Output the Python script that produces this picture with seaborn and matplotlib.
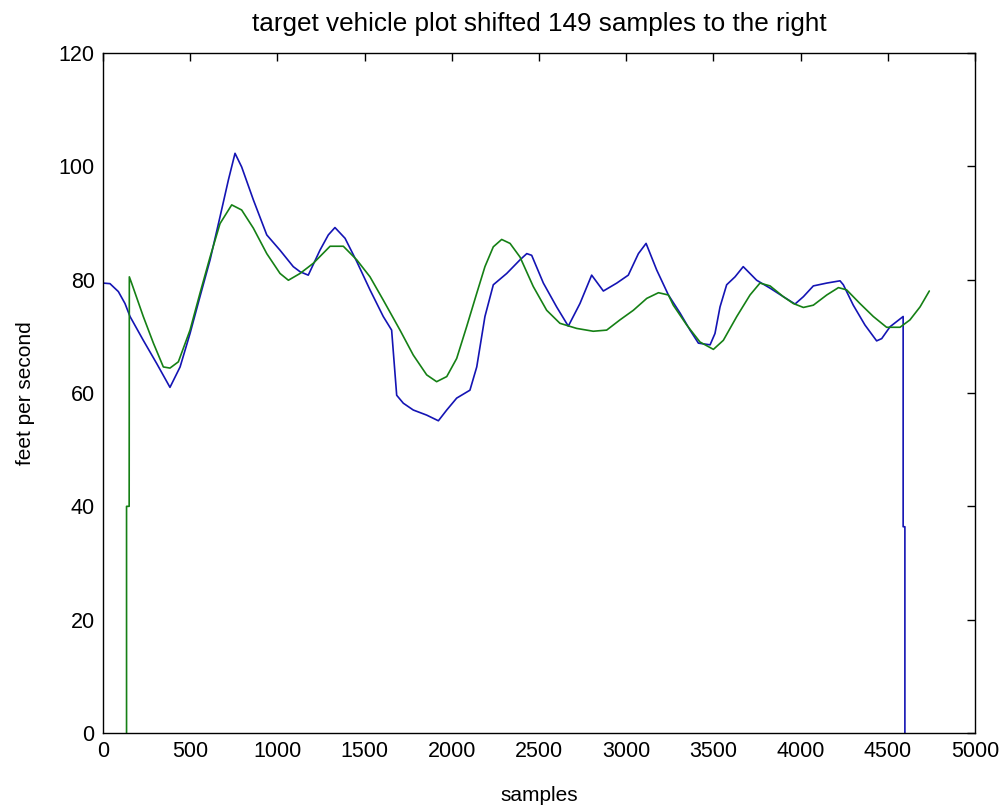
"""
Speed trace of the target vehicle against the lead vehicle, shifted 149 samples
"""

import matplotlib
matplotlib.use('Agg')
import matplotlib.pyplot as plt
from matplotlib import font_manager
import seaborn as sns
import pandas as pd

# blue trace (original)
blue_x = [0, 40, 88, 126, 155, 231, 308, 384, 442, 499, 556, 614, 671, 719, 757,
          795, 862, 939, 1015, 1091, 1130, 1177, 1244, 1292, 1330, 1388, 1455,
          1531, 1607, 1655, 1684, 1722, 1779, 1856, 1923, 1971, 2028, 2104, 2143,
          2190, 2238, 2315, 2391, 2430, 2458, 2525, 2601, 2668, 2735, 2802, 2869,
          2946, 3012, 3070, 3114, 3175, 3242, 3309, 3366, 3414, 3481, 3509, 3538,
          3576, 3624, 3671, 3748, 3825, 3901, 3968, 4016, 4073, 4150, 4226, 4245,
          4302, 4369, 4436, 4465, 4513, 4588, 4588, 4598, 4598]
blue_y = [79.4, 79.3, 77.9, 75.8, 73.5, 69.3, 65.2, 61.0, 64.6, 70.5, 77.0, 83.5,
          91.1, 97.6, 102.3, 99.9, 94.1, 87.9, 85.2, 82.3, 81.4, 80.8, 85.2, 87.9,
          89.2, 87.3, 83.2, 78.2, 73.5, 71.1, 59.6, 58.2, 57.0, 56.1, 55.1, 57.0,
          59.1, 60.5, 64.6, 73.5, 79.1, 81.1, 83.5, 84.6, 84.3, 79.4, 75.2, 71.8,
          75.8, 80.8, 78.0, 79.4, 80.8, 84.6, 86.4, 81.7, 77.3, 74.1, 71.1, 68.8,
          68.5, 70.5, 75.2, 79.1, 80.5, 82.3, 79.9, 78.5, 77.0, 75.7, 77.0, 78.9,
          79.4, 79.8, 79.1, 75.5, 72.0, 69.2, 69.6, 71.7, 73.5, 36.4, 36.4, 0]

# green trace (shifted)
green_x = [135, 135, 150, 151, 164, 231, 289, 346, 384, 432, 499, 556, 614, 671,
           738, 795, 862, 939, 1015, 1063, 1130, 1206, 1302, 1378, 1455, 1531,
           1607, 1703, 1779, 1856, 1913, 1971, 2028, 2085, 2143, 2190, 2238, 2286,
           2334, 2391, 2467, 2544, 2620, 2716, 2811, 2888, 2964, 3041, 3118, 3185,
           3242, 3270, 3347, 3423, 3500, 3557, 3634, 3710, 3767, 3825, 3901, 3958,
           4016, 4073, 4150, 4217, 4264, 4340, 4417, 4493, 4570, 4627, 4685, 4738]
green_y = [0, 40, 40, 80.5, 79.4, 73.5, 68.8, 64.6, 64.4, 65.5, 71.1, 77.6, 84.0,
           89.9, 93.2, 92.3, 89.1, 84.6, 81.1, 79.9, 81.1, 82.9, 85.9, 85.9, 83.5,
           80.5, 76.4, 71.1, 66.7, 63.2, 62.0, 62.9, 66.1, 71.7, 77.6, 82.3, 85.8,
           87.1, 86.4, 84.0, 78.8, 74.6, 72.3, 71.4, 70.9, 71.1, 72.9, 74.6, 76.7,
           77.7, 77.3, 75.5, 72.0, 69.0, 67.7, 69.3, 73.5, 77.3, 79.4, 78.9, 77.0,
           75.8, 75.1, 75.5, 77.3, 78.6, 78.2, 75.8, 73.5, 71.6, 71.6, 72.9, 75.2,
           78.0]

x_ticks = list(range(0, 5001, 500))
y_ticks = list(range(0, 121, 20))

sns.set_style('white')
plt.rcParams['font.family'] = ['Liberation Sans', 'DejaVu Sans']
plt.rcParams['text.color'] = 'black'
plt.rcParams['axes.labelcolor'] = 'black'

# narrow face for the tick numbers if one is around
installed = {f.name for f in font_manager.fontManager.ttflist}
tick_font, tick_size = 'Liberation Sans', 15.5
for name in ['Liberation Sans Narrow', 'DejaVu Sans Condensed']:
    if name in installed:
        tick_font, tick_size = name, 17.5
        break

fig = plt.figure(figsize=(10, 8.07), dpi=100)
ax = fig.add_axes([0.103, 0.0917, 0.872, 0.8426])

blue_df = pd.DataFrame({'samples': blue_x, 'fps': blue_y})
green_df = pd.DataFrame({'samples': green_x, 'fps': green_y})
sns.lineplot(data=blue_df, x='samples', y='fps', sort=False, estimator=None,
             color='#1414b4', linewidth=1.2, ax=ax)
sns.lineplot(data=green_df, x='samples', y='fps', sort=False, estimator=None,
             color='#158015', linewidth=1.2, ax=ax)

ax.set_xlim(0, 5000)
ax.set_ylim(0, 120)
ax.set_xticks(x_ticks)
ax.set_yticks(y_ticks)
ax.tick_params(direction='in', length=6, width=1, top=True, right=True,
               labelsize=tick_size, labelfontfamily=tick_font, pad=6,
               colors='black')
for s in ax.spines.values():
    s.set_visible(True)
    s.set_color('black')
    s.set_linewidth(1)

ax.set_title('target vehicle plot shifted 149 samples to the right', fontsize=18.8,
             pad=16, color='black')
ax.set_xlabel('samples', fontsize=15, labelpad=17)
ax.set_ylabel('feet per second', fontsize=15, labelpad=17)

fig.savefig('out.png', dpi=100)
